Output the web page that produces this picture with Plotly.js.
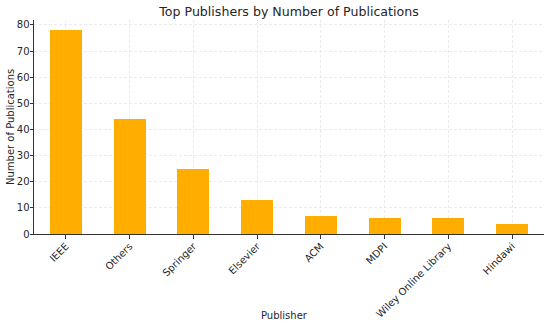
<!DOCTYPE html>
<html><head><meta charset="utf-8">
<script src="https://cdn.plot.ly/plotly-3.0.1.min.js"></script>
<style>html,body{margin:0;padding:0;background:#fff}#c{width:550px;height:324px}</style>
</head><body><div id="c"></div>
<script>
const publishers = ["IEEE","Others","Springer","Elsevier","ACM","MDPI","Wiley Online Library","Hindawi"];
const counts = [78,44,25,13,7,6,6,4];
const yTicks = [0,10,20,30,40,50,60,70,80];

const font = "DejaVu Sans, sans-serif";
const fs = 10;
const col = "#262626";
const trace = {
  type: "bar", x: publishers, y: counts, width: 0.5,
  marker: {color: "#FFAE00", line: {width: 0}},
  hoverinfo: "skip"
};
const layout = {
  width: 550, height: 324,
  margin: {l: 34, r: 6, t: 20, b: 90},
  paper_bgcolor: "#fff", plot_bgcolor: "#fff",
  font: {family: font, size: fs, color: col},
  title: {text: "Top Publishers by Number of Publications", font: {family: font, size: 12.6, color: col},
          xref: "paper", x: 0.5, xanchor: "center", yref: "container", y: 0.963, yanchor: "middle"},
  showlegend: false,
  bargap: 0,
  xaxis: {
    range: [-0.5, 7.5], tickangle: -45, ticks: "outside", ticklen: 3.5, tickcolor: "#333",
    showline: true, linecolor: "#333", linewidth: 1, mirror: false, automargin: false,
    ticklabelstandoff: -2,
    showgrid: true, gridcolor: "#e6e6e6", griddash: "3px,2px", gridwidth: 0.8,
    tickfont: {family: font, size: fs, color: col}
  },
  yaxis: {
    range: [0, 81.9], tickvals: yTicks, ticks: "outside", ticklen: 3.5, tickcolor: "#333",
    showline: true, linecolor: "#333", linewidth: 1, zeroline: false, automargin: false,
    ticklabelstandoff: -2,
    showgrid: true, gridcolor: "#e6e6e6", griddash: "3px,2px", gridwidth: 0.8,
    tickfont: {family: font, size: fs, color: col}
  },
  annotations: [
    {text: "Publisher", xref: "paper", yref: "paper", x: 0.492, y: -0.383, xanchor: "center", yanchor: "middle",
     showarrow: false, font: {family: font, size: fs, color: col}},
    {text: "Number of Publications", xref: "paper", yref: "paper", x: -0.047, y: 0.5, xanchor: "center", yanchor: "middle",
     textangle: -90, showarrow: false, font: {family: font, size: fs, color: col}}
  ]
};
Plotly.newPlot("c", [trace], layout, {staticPlot: true, displayModeBar: false});
</script></body></html>
